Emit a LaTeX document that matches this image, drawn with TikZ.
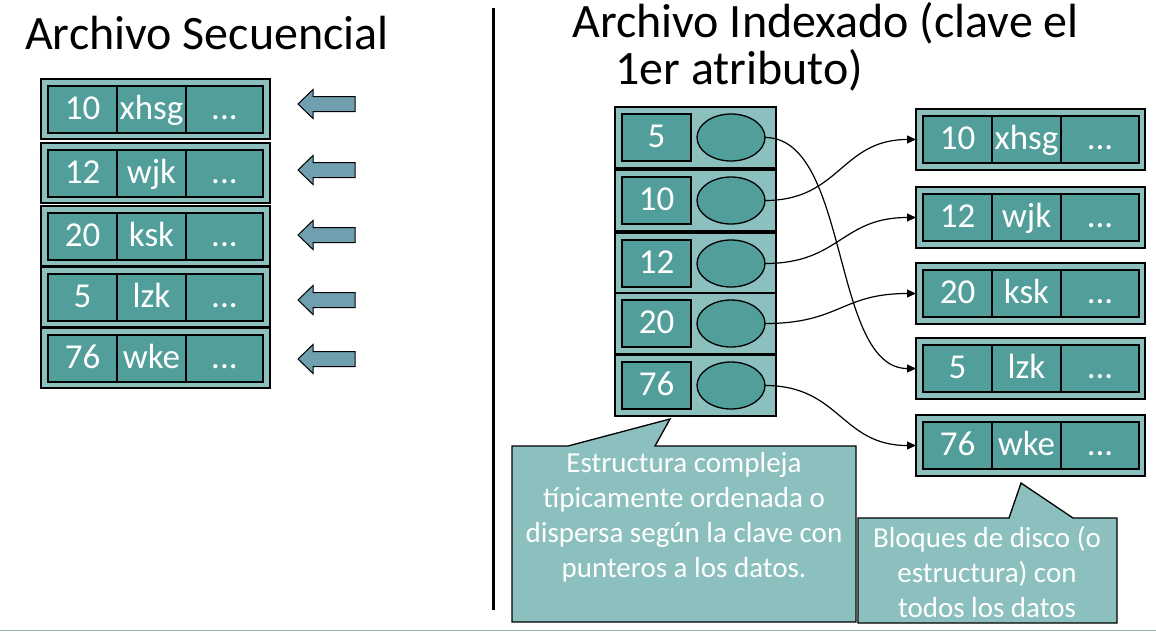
\documentclass[tikz,border=0pt]{standalone}
\usepackage{fontspec}
\setmainfont{Carlito}
\usetikzlibrary{arrows.meta,shapes.geometric}
\definecolor{lt}{RGB}{139,192,190}
\definecolor{dk}{RGB}{81,158,155}
\definecolor{arrc}{RGB}{112,160,176}
\definecolor{rulec}{RGB}{150,180,180}
\begin{document}
\begin{tikzpicture}[x=1pt,y=-1pt,
  outerbox/.style={draw=black, fill=lt, line width=1.3pt, inner sep=0pt, outer sep=0pt, anchor=north west},
  cell/.style={draw=black, fill=dk, line width=1.3pt, inner sep=0pt, outer sep=0pt, anchor=north west,
    text=white, font=\fontsize{35}{40}\selectfont, minimum height=47pt, text height=25pt, text depth=6pt},
  ell/.style={draw=black, fill=dk, line width=1.3pt, ellipse, inner sep=0pt, outer sep=0pt,
    minimum width=68pt, minimum height=47pt},
  link/.style={draw=black, line width=1.2pt, -{Triangle[length=9pt,width=8pt]}},
  titletext/.style={font=\fontsize{48}{52}\selectfont, anchor=base west, inner sep=0pt},
  callout/.style={draw=black, fill=lt, line width=1.3pt},
  callouttext/.style={text=white, font=\fontsize{29}{35}\selectfont, align=center, inner sep=0pt},
  larrow/.pic={\path[draw=black, fill=arrc, line width=1pt, line join=miter]
      (0,0) -- (15,-14.5) -- (15,-7.5) -- (57,-7.5) -- (57,7.5) -- (15,7.5) -- (15,14.5) -- cycle;}
]
\useasboundingbox (0,0) rectangle (1156,632);

% titles
\node[titletext] (t1) at (25,49) {Archivo Secuencial};
\node[titletext] (t2a) at (572,37) {Archivo Indexado (clave el};
\node[titletext] (t2b) at (615,84) {1er atributo)};

% separator
\draw[line width=3pt] (493,8) coordinate (s1) -- (493,610) coordinate (s2);

% sequential file
\foreach \t/\k/\v [count=\i] in {79/10/xhsg, 143/12/wjk, 206/20/ksk, 267/5/lzk, 328/76/wke} {
  \node[outerbox, minimum width=229pt, minimum height=60pt] (L\i) at (41,\t) {};
  \node[cell, minimum width=69pt] (L\i a) at (48,\t+7) {\k};
  \node[cell, minimum width=69pt] (L\i b) at (117,\t+7) {\v};
  \node[cell, minimum width=77pt] (L\i c) at (186,\t+7) {...};
}
\foreach \y in {104,170,235,300,359} {
  \pic at (298,\y) {larrow};
}

% index
\foreach \t/\k [count=\i] in {107/5, 170/10, 233/12, 293/20, 355/76} {
  \node[outerbox, minimum width=161pt, minimum height=61pt] (I\i) at (615,\t) {};
  \node[cell, minimum width=69pt] (K\i) at (622,\t+7) {\k};
  \node[ell] (E\i) at (731,\t+30.5) {};
}

% data blocks
\foreach \t/\k/\v [count=\i] in {109/10/xhsg, 187/12/wjk, 263/20/ksk, 338/5/lzk, 415/76/wke} {
  \node[outerbox, minimum width=229pt, minimum height=61pt] (R\i) at (916,\t) {};
  \node[cell, minimum width=69pt] (R\i a) at (923,\t+7) {\k};
  \node[cell, minimum width=69pt] (R\i b) at (992,\t+7) {\v};
  \node[cell, minimum width=78pt] (R\i c) at (1061,\t+7) {...};
}

% pointers
\draw[link] (E1.east) .. controls +(85,0) and +(-85,0) .. (R4.west);
\draw[link] (E2.east) .. controls +(75,0) and +(-75,0) .. (R1.west);
\draw[link] (E3.east) .. controls +(75,0) and +(-75,0) .. (R2.west);
\draw[link] (E4.east) .. controls +(75,0) and +(-75,0) .. (R3.west);
\draw[link] (E5.east) .. controls +(75,0) and +(-75,0) .. (R5.west);

% callouts
\draw[callout] (512,446) -- (568,446) -- (670,419) -- (655,446) -- (856,446) -- (856,622) -- (512,622) -- cycle;
\node[callouttext] (c1) at (684,517) {Estructura compleja\\típicamente ordenada o\\dispersa según la clave con\\punteros a los datos.};
\draw[callout] (858,518) -- (1009,518) -- (1021,483) -- (1073,518) -- (1117,518) -- (1117,623) -- (858,623) -- cycle;
\node[callouttext] (c2) at (987,572) {Bloques de disco (o\\estructura) con\\todos los datos};

% bottom rule
\draw[rulec, line width=1.5pt] (0,630.5) coordinate (b1) -- (1156,630.5) coordinate (b2);
\end{tikzpicture}
\end{document}
